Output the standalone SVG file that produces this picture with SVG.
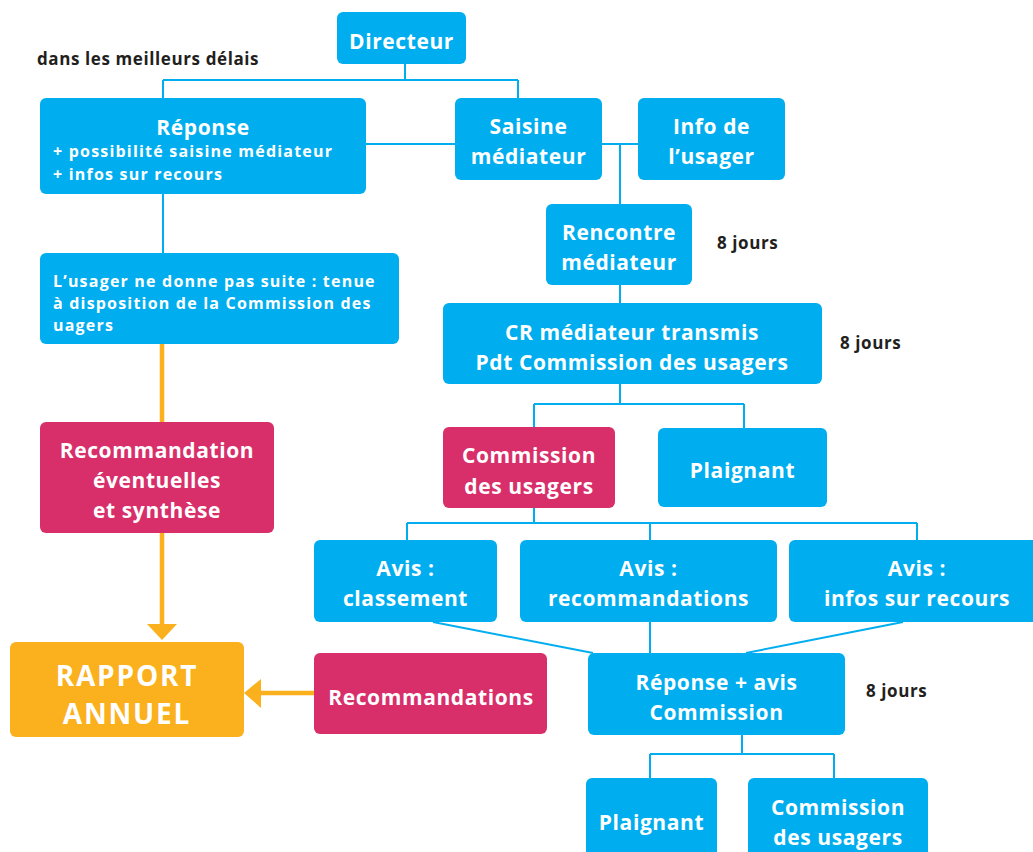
<svg xmlns="http://www.w3.org/2000/svg" width="1033" height="852" viewBox="0 0 1033 852">
<style>
.b{fill:#00AEEF}
.p{fill:#D82E6A}
.o{fill:#FBB01E}
.t{font-family:"Open Sans","Liberation Sans",sans-serif;font-weight:700;fill:#fff;text-anchor:middle;font-size:21px;letter-spacing:0.6px}
.big{font-size:28px;letter-spacing:1.8px}
.tl{font-family:"Open Sans","Liberation Sans",sans-serif;font-weight:700;fill:#fff;font-size:16px;letter-spacing:1.2px}
.d{font-family:"Open Sans","Liberation Sans",sans-serif;font-weight:700;fill:#231F20;font-size:17px;letter-spacing:0.6px}
.c{fill:none;stroke:#00AEEF;stroke-width:2}
.oc{fill:none;stroke:#FBB01E;stroke-width:4.5}
</style>
<rect width="1033" height="852" fill="#fff"/>
<g id="connectors">
<path class="c" d="M405 64V80M163 80H518M163 80V98M518 80V98"/>
<path class="c" d="M366 144H455M602 144H638M620 144V204"/>
<path class="c" d="M163 194V253"/>
<path class="c" d="M620 285V303"/>
<path class="c" d="M620 384V404M534 404H744M534 404V427M744 404V428"/>
<path class="c" d="M534 508V523M407 523H917M407 523V540M650 523V540M917 523V540"/>
<path class="c" d="M433 622L593 653M650 622V653M903 622L746 653"/>
<path class="c" d="M742 735V754M650 754H834M650 754V778M834 754V778"/>
<path class="oc" d="M162 344V422M162 533V626"/>
<polygon class="o" points="147,624 177,624 162,640"/>
<path class="oc" d="M314 693H258"/>
<polygon class="o" points="261,679 261,708 244,693"/>
</g>
<text class="d" x="37" y="65">dans les meilleurs délais</text>
<text class="d" x="717" y="249">8 jours</text>
<text class="d" x="840" y="349">8 jours</text>
<text class="d" x="866" y="697">8 jours</text>
<g id="directeur"><rect class="b" x="337" y="12" width="129" height="52" rx="6"/><text class="t" x="401.5" y="49">Directeur</text></g>
<g id="reponse"><rect class="b" x="40" y="98" width="326" height="96" rx="6"/><text class="t" x="203" y="135">Réponse</text><text class="tl" x="53" y="157">+ possibilité saisine médiateur</text><text class="tl" x="53" y="180">+ infos sur recours</text></g>
<g id="saisine"><rect class="b" x="455" y="98" width="147" height="82" rx="6"/><text class="t" x="528.5" y="134">Saisine</text><text class="t" x="528.5" y="164">médiateur</text></g>
<g id="info"><rect class="b" x="638" y="98" width="147" height="82" rx="6"/><text class="t" x="711.5" y="134">Info de</text><text class="t" x="711.5" y="164">l’usager</text></g>
<g id="rencontre"><rect class="b" x="546" y="204" width="146" height="81" rx="6"/><text class="t" x="619" y="240">Rencontre</text><text class="t" x="619" y="270">médiateur</text></g>
<g id="usager"><rect class="b" x="40" y="253" width="359" height="91" rx="6"/><text class="tl" x="53" y="287">L’usager ne donne pas suite : tenue</text><text class="tl" x="53" y="309">à disposition de la Commission des</text><text class="tl" x="53" y="331">uagers</text></g>
<g id="cr"><rect class="b" x="443" y="303" width="379" height="81" rx="6"/><text class="t" x="632" y="340">CR médiateur transmis</text><text class="t" x="632" y="370">Pdt Commission des usagers</text></g>
<g id="recoev"><rect class="p" x="40" y="422" width="234" height="111" rx="6"/><text class="t" x="157" y="458">Recommandation</text><text class="t" x="157" y="488">éventuelles</text><text class="t" x="157" y="518">et synthèse</text></g>
<g id="commission1"><rect class="p" x="443" y="427" width="172" height="81" rx="6"/><text class="t" x="529" y="463">Commission</text><text class="t" x="529" y="494">des usagers</text></g>
<g id="plaignant1"><rect class="b" x="658" y="428" width="169" height="79" rx="6"/><text class="t" x="742.5" y="478">Plaignant</text></g>
<g id="avis1"><rect class="b" x="314" y="540" width="183" height="82" rx="6"/><text class="t" x="405.5" y="576">Avis :</text><text class="t" x="405.5" y="606">classement</text></g>
<g id="avis2"><rect class="b" x="520" y="540" width="257" height="82" rx="6"/><text class="t" x="648.5" y="576">Avis :</text><text class="t" x="648.5" y="606">recommandations</text></g>
<g id="avis3"><rect class="b" x="789" y="540" width="256" height="82" rx="6"/><text class="t" x="917" y="576">Avis :</text><text class="t" x="917" y="606">infos sur recours</text></g>
<g id="rapport"><rect class="o" x="10" y="642" width="234" height="95" rx="6"/><text class="t big" x="127" y="686">RAPPORT</text><text class="t big" x="127" y="724">ANNUEL</text></g>
<g id="recos"><rect class="p" x="314" y="653" width="233" height="81" rx="6"/><text class="t" x="431" y="705">Recommandations</text></g>
<g id="repavis"><rect class="b" x="588" y="653" width="257" height="82" rx="6"/><text class="t" x="716.5" y="690">Réponse + avis</text><text class="t" x="716.5" y="720">Commission</text></g>
<g id="plaignant2"><rect class="b" x="586" y="778" width="131" height="90" rx="6"/><text class="t" x="651.5" y="830">Plaignant</text></g>
<g id="commission2"><rect class="b" x="748" y="778" width="180" height="90" rx="6"/><text class="t" x="838" y="815">Commission</text><text class="t" x="838" y="845">des usagers</text></g>
</svg>
